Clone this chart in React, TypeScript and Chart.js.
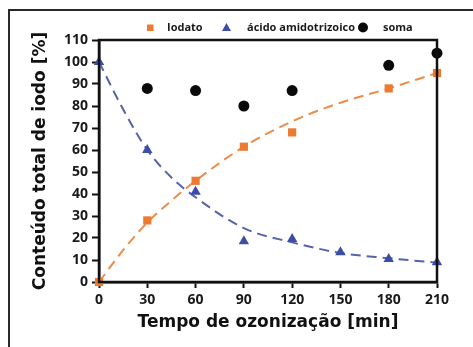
import React, { useEffect, useRef } from "react";
import { Chart, registerables } from "chart.js";

Chart.register(...registerables);

const timeMin = [0, 30, 60, 90, 120, 150, 180, 210];
const iodatoX = [0, 30, 60, 90, 120, 180, 210];
const iodatoY = [0, 28, 46, 61.5, 68, 88, 95];
const acidoX = [0, 30, 60, 90, 120, 150, 180, 210];
const acidoY = [100, 60, 41, 18.5, 19.5, 13.5, 10.5, 9];
const somaX = [30, 60, 90, 120, 180, 210];
const somaY = [88, 87, 80, 87, 98.5, 104];
const fitX = [0, 15, 30, 45, 60, 90, 120, 150, 180, 210];
const iodatoFitY = [0, 14.5, 27, 37, 46, 61.5, 73, 81.5, 88, 95];
const acidoFitY = [100, 78.5, 60, 47.5, 38.5, 24.5, 18, 13.2, 10.8, 8.8];
const yTicks = [0, 10, 20, 30, 40, 50, 60, 70, 80, 90, 100, 110];

const seriesLabels = ["Iodato", "ácido amidotrizoico", "soma"];
const xTitle = "Tempo de ozonização [min]";
const yTitle = "Conteúdo total de iodo [%]";

const ORANGE = "#EC7A30";
const BLUE = "#3C4DA6";
const BLACK = "#0a0a0a";
const FONT = "'Open Sans', 'DejaVu Sans', sans-serif";
const TITLE_FONT = "'DejaVu Sans', sans-serif";

const pts = (xs: number[], ys: number[]) => xs.map((x, i) => ({ x, y: ys[i] }));

const framePlugin = {
  id: "frameBox",
  afterDatasetsDraw(chart: any) {
    const { ctx, chartArea } = chart;
    ctx.save();
    ctx.strokeStyle = "#111";
    ctx.lineWidth = 2.5;
    ctx.strokeRect(chartArea.left, chartArea.top, chartArea.right - chartArea.left, chartArea.bottom - chartArea.top);
    ctx.restore();
  },
};

const legendPlugin = {
  id: "customLegend",
  afterDraw(chart: any) {
    const ctx = chart.ctx;
    const y = 27.5;
    ctx.save();
    ctx.font = `bold 11px ${FONT}`;
    ctx.textBaseline = "middle";
    // Iodato
    ctx.fillStyle = ORANGE;
    ctx.fillRect(147, y - 3, 6.5, 6.5);
    ctx.fillStyle = "#1a1a1a";
    ctx.fillText(chart.data.datasets[0].label, 167, y);
    // triangle
    ctx.fillStyle = BLUE;
    ctx.beginPath();
    ctx.moveTo(226.5, y - 4.5);
    ctx.lineTo(231, y + 3.5);
    ctx.lineTo(222, y + 3.5);
    ctx.closePath();
    ctx.fill();
    ctx.fillStyle = "#1a1a1a";
    ctx.fillText(chart.data.datasets[1].label, 247, y);
    // soma
    ctx.fillStyle = BLACK;
    ctx.beginPath();
    ctx.arc(363, y, 5, 0, Math.PI * 2);
    ctx.fill();
    ctx.fillStyle = "#1a1a1a";
    ctx.fillText(chart.data.datasets[2].label, 383, y);
    ctx.restore();
  },
};

export default function App() {
  const ref = useRef<HTMLCanvasElement>(null);
  useEffect(() => {
    if (!ref.current) return;
    const chart = new Chart(ref.current, {
      type: "scatter",
      data: {
        datasets: [
          {
            label: seriesLabels[0],
            data: pts(iodatoX, iodatoY),
            pointStyle: "rect",
            pointRadius: 5.8,
            backgroundColor: ORANGE,
            borderColor: ORANGE,
            borderWidth: 0,
            clip: false,
          } as any,
          {
            label: seriesLabels[1],
            data: pts(acidoX, acidoY),
            pointStyle: "triangle",
            pointRadius: 6,
            backgroundColor: BLUE,
            borderColor: BLUE,
            borderWidth: 0,
            clip: false,
          },
          {
            label: seriesLabels[2],
            data: pts(somaX, somaY),
            pointStyle: "circle",
            pointRadius: 5.5,
            backgroundColor: BLACK,
            borderColor: BLACK,
            borderWidth: 0,
            clip: false,
          },
          {
            label: "fit iodato",
            data: pts(fitX, iodatoFitY),
            showLine: true,
            pointRadius: 0,
            borderColor: "#EF8A48",
            borderWidth: 2,
            borderDash: [10, 6],
            cubicInterpolationMode: "monotone",
            clip: false,
          },
          {
            label: "fit ácido",
            data: pts(fitX, acidoFitY),
            showLine: true,
            pointRadius: 0,
            borderColor: "#5563AC",
            borderWidth: 2,
            borderDash: [10, 6],
            cubicInterpolationMode: "monotone",
            clip: false,
          },
        ],
      },
      options: {
        responsive: false,
        animation: false,
        devicePixelRatio: 1,
        layout: { padding: { top: 40, right: 36, left: 0, bottom: 0 } },
        plugins: { legend: { display: false }, tooltip: { enabled: false } },
        scales: {
          x: {
            type: "linear",
            min: 0,
            max: 210,
            afterBuildTicks: (s: any) => {
              s.ticks = timeMin.map((v) => ({ value: v }));
            },
            afterFit: (s: any) => {
              s.height = 347 - 282;
            },
            ticks: { color: "#1a1a1a", font: { family: FONT, size: 14, weight: "bold" }, padding: 4, maxRotation: 0 },
            grid: { drawOnChartArea: false, drawTicks: true, tickLength: 6, tickWidth: 2, color: "#111" },
            border: { display: true, color: "#111", width: 2.5 },
            title: {
              display: true,
              text: xTitle,
              color: "#111",
              font: { family: TITLE_FONT, size: 17, weight: "bold" },
              padding: { top: 0, bottom: 14 },
            },
          },
          y: {
            type: "linear",
            min: 0,
            max: 110,
            afterBuildTicks: (s: any) => {
              s.ticks = yTicks.map((v) => ({ value: v }));
            },
            afterFit: (s: any) => {
              s.width = 99;
            },
            ticks: { color: "#1a1a1a", font: { family: FONT, size: 14, weight: "bold" }, padding: 4 },
            grid: { drawOnChartArea: false, drawTicks: true, tickLength: 7, tickWidth: 2, color: "#111" },
            border: { display: true, color: "#111", width: 2.5 },
            title: {
              display: true,
              text: yTitle,
              color: "#111",
              font: { family: TITLE_FONT, size: 17, weight: "bold" },
              padding: { top: 30, bottom: 0 },
            },
          },
        },
      },
      plugins: [framePlugin, legendPlugin],
    });
    return () => chart.destroy();
  }, []);

  return (
    <div style={{ position: "absolute", left: 0, top: 0, width: 473, height: 347, background: "#fff" }}>
      <div
        style={{
          position: "absolute",
          left: 8,
          top: 9,
          width: 465,
          height: 338,
          borderTop: "2px solid #2a2a2a",
          borderLeft: "2px solid #2a2a2a",
        }}
      />
      <canvas ref={ref} width={473} height={347} style={{ position: "absolute", left: 0, top: 0, width: 473, height: 347 }} />
    </div>
  );
}
